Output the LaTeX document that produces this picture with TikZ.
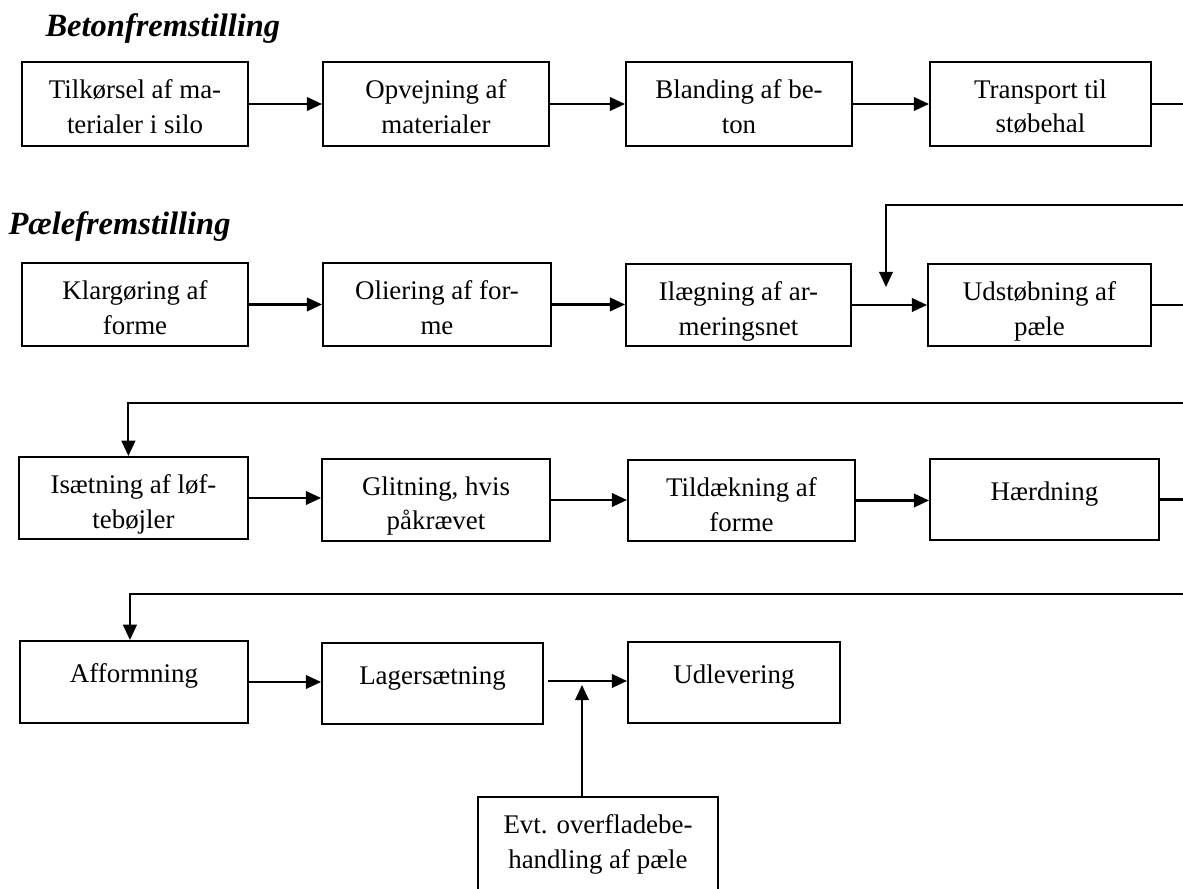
\documentclass[tikz,border=0pt]{standalone}
\usepackage{fontspec}
\setmainfont{Liberation Serif}
\usetikzlibrary{arrows.meta,fit}
\newcommand\procbox[6]{%
  \node[box, fit={(#2,#3) (#4,#5)}] (#1) {};
  \node[lbl, yshift=-7.2pt] (#1t) at (#1.north) {#6};}
\begin{document}
\begin{tikzpicture}[x=0.394pt,y=-0.394pt,
  box/.style={draw, line width=0.8pt, inner sep=0pt},
  lbl/.style={anchor=north, inner sep=0pt, align=center,
    font=\fontsize{10.6pt}{13.6pt}\selectfont, execute at begin node=\strut},
  conn/.style={line width=0.8pt},
  arr/.style={conn, -{Triangle[length=6pt,width=5.4pt]}},
  ttl/.style={anchor=base west, inner sep=0pt,
    font=\fontsize{12.8pt}{15pt}\selectfont\bfseries\itshape}]
\useasboundingbox (0,0) rectangle (1183,889);
\clip (0,0) rectangle (1183,889);

\node[ttl] (t1) at (45,37) {Betonfremstilling};
\node[ttl] (t2) at (8,235) {Pælefremstilling};

% row 1
\procbox{b11}{22}{62}{248}{146}{Tilkørsel af ma-\\terialer i silo}
\procbox{b12}{323}{62}{549}{146}{Opvejning af\\materialer}
\procbox{b13}{626}{62}{852}{146}{Blanding af be-\\ton}
\procbox{b14}{930}{62}{1151}{146}{Transport til\\støbehal}
% row 2
\procbox{b21}{22}{263}{248}{346}{Klargøring af\\forme}
\procbox{b22}{323}{263}{551}{346}{Oliering af for-\\me}
\procbox{b23}{626}{264}{851}{346}{Ilægning af ar-\\meringsnet}
\procbox{b24}{928}{264}{1151}{346}{Udstøbning af\\pæle}
% row 3
\procbox{b31}{19}{457}{248}{539}{Isætning af løf-\\tebøjler}
\procbox{b32}{322}{459}{550}{541}{Glitning, hvis\\påkrævet}
\procbox{b33}{628}{460}{855}{541}{Tildækning af\\forme}
\procbox{b34}{930}{459}{1159}{540}{Hærdning}
% row 4
\procbox{b41}{20}{641}{248}{723}{Afformning}
\procbox{b42}{322}{643}{543}{724}{Lagersætning}
\procbox{b43}{628}{642}{840}{723}{Udlevering}
\procbox{b5}{478}{797}{718}{910}{Evt. overfladebe-\\handling af pæle}

% row connectors
\draw[arr] (b11.east) -- (b11.east -| b12.west);
\draw[arr] (b12.east) -- (b12.east -| b13.west);
\draw[arr] (b13.east) -- (b13.east -| b14.west);
\draw[arr] (b21.east) -- (b21.east -| b22.west);
\draw[arr] (b22.east) -- (b22.east -| b23.west);
\draw[arr] (b23.east) -- (b23.east -| b24.west);
\draw[arr] (b31.east) -- (b31.east -| b32.west);
\draw[arr] (b32.east) -- (b32.east -| b33.west);
\draw[arr] (b33.east) -- (b33.east -| b34.west);
\draw[arr] (b41.east) -- (b41.east -| b42.west);

% return lines
\coordinate (k1) at (1200,205);
\coordinate (d1) at (886,287);
\draw[arr] (b14.east) -| (k1) -| (d1);
\coordinate (k2) at (1200,403);
\draw[arr] (b24.east) -| (k2) -| ([xshift=-2pt]b31.north);
\coordinate (k3) at (1200,594);
\draw[arr] (b34.east) -| (k3) -| ([xshift=-1.6pt]b41.north);

% bottom
\coordinate (s1) at (548,681);
\draw[arr] (s1) -- (s1 -| b43.west);
\coordinate (j1) at (582,685);
\draw[arr] (b5.north -| j1) -- (j1);
\end{tikzpicture}
\end{document}
